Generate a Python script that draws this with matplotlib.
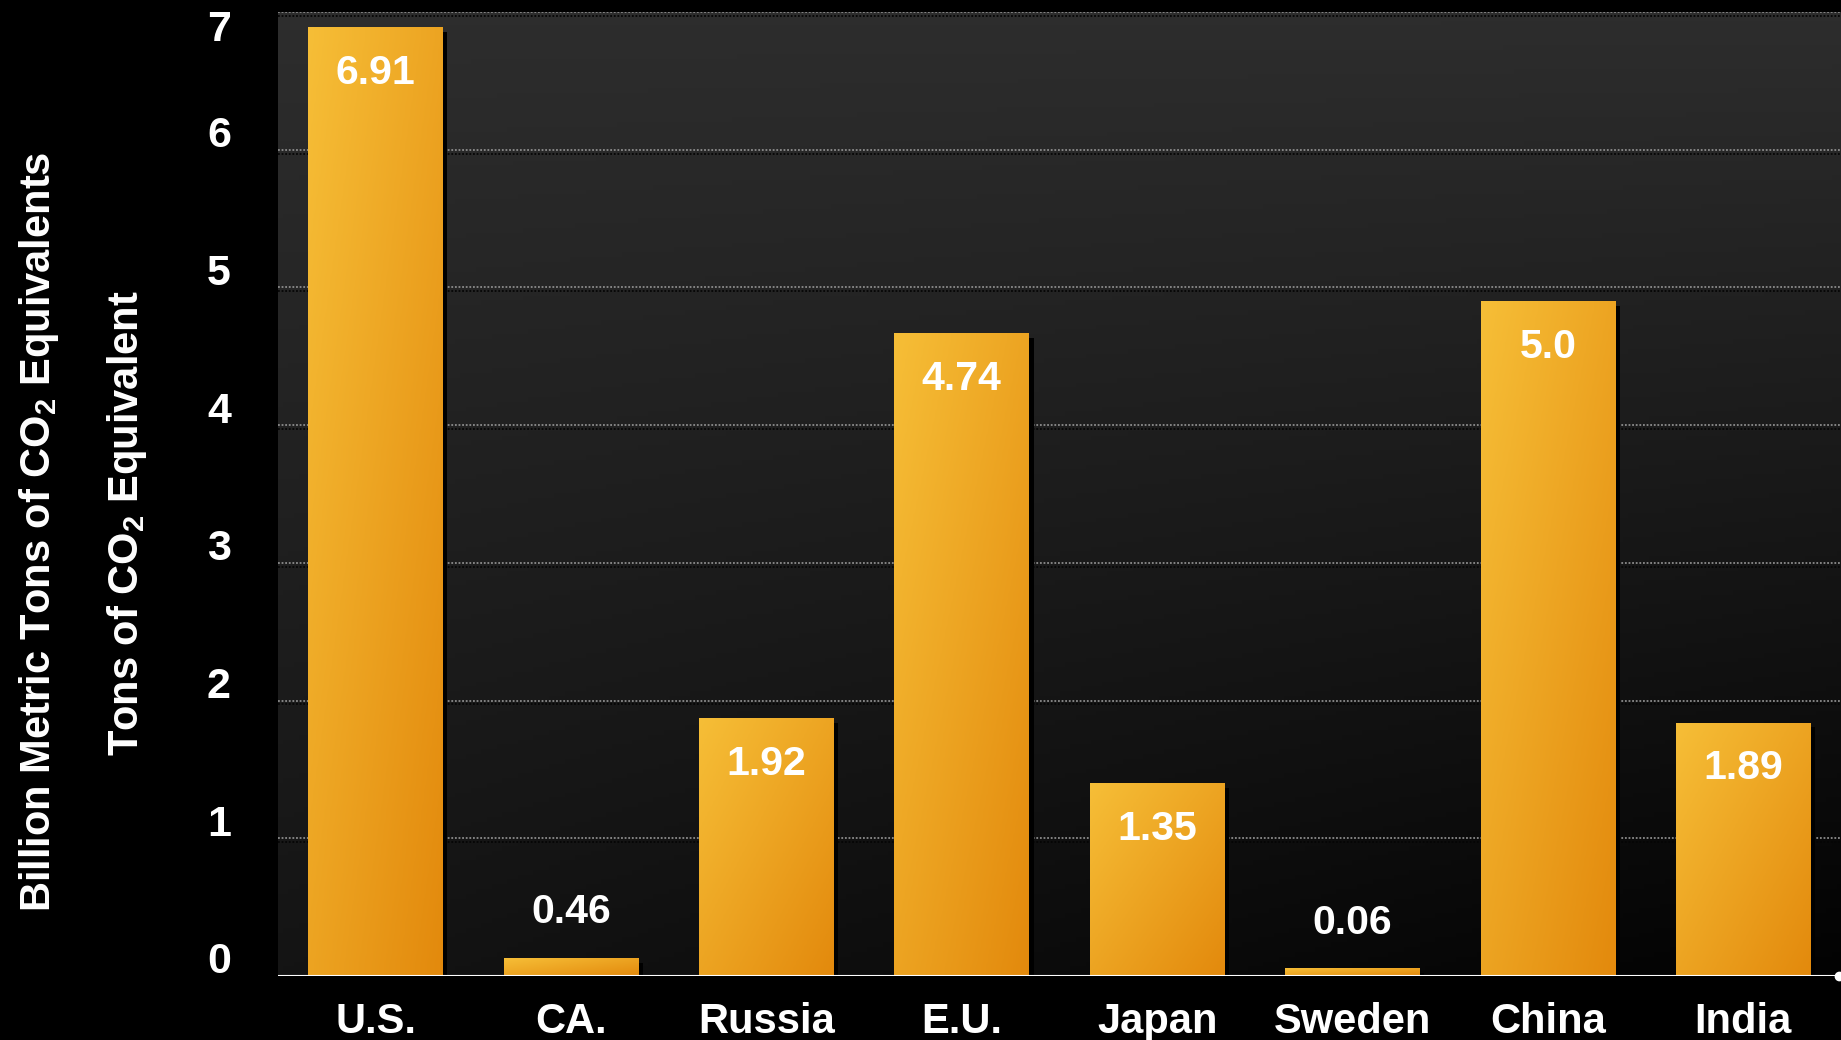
import numpy as np
import matplotlib
matplotlib.use('Agg')
import matplotlib.pyplot as plt
from matplotlib.patches import Rectangle
from matplotlib.transforms import ScaledTranslation

plt.rcParams['font.family'] = ['Liberation Sans', 'DejaVu Sans']
plt.rcParams['font.weight'] = 'bold'
plt.rcParams['mathtext.fontset'] = 'custom'
plt.rcParams['mathtext.rm'] = 'Liberation Sans:bold'
plt.rcParams['mathtext.it'] = 'Liberation Sans:bold'
plt.rcParams['mathtext.bf'] = 'Liberation Sans:bold'

# data
countries = ['U.S.', 'CA.', 'Russia', 'E.U.', 'Japan', 'Sweden', 'China', 'India']
bar_heights = [6.89, 0.13, 1.87, 4.67, 1.40, 0.055, 4.90, 1.84]
value_labels = ['6.91', '0.46', '1.92', '4.74', '1.35', '0.06', '5.0', '1.89']
yticks = [0, 1, 2, 3, 4, 5, 6, 7]

fig = plt.figure(figsize=(18.41, 10.40), dpi=100)
fig.patch.set_facecolor('black')
ax = fig.add_axes([0.151, 0.0615, 0.849, 0.927])
ax.set_facecolor('black')

x = np.arange(len(countries))
xmin, xmax = -0.5, len(countries) - 0.5
ax.set_xlim(xmin, xmax)
ax.set_ylim(0, 7)

# plot area background gradient (lighter top, darker lower right)
ny, nx = 200, 300
yy, xx = np.mgrid[0:1:ny*1j, 0:1:nx*1j]
v = 0.178 - 0.10 * yy - 0.07 * xx * yy
v = np.clip(v, 0, 1)
bg = np.dstack([v, v, v])
ax.imshow(bg, extent=[xmin, xmax, 0, 7], aspect='auto', origin='upper', zorder=0)

# dotted grid lines with dark shadow line
for y in yticks[1:]:
    ax.axhline(y, color='#8c8c8c', lw=1.3, ls=(0, (1, 1)), zorder=1)
    ax.axhline(y - 0.028, color='#050505', lw=1.3, ls=(0, (1, 1)), zorder=1)

# bars with shadow and diagonal orange gradient
width = 0.69
gy, gx = np.mgrid[0:1:50j, 0:1:50j]
t = (gx + gy) / 2
c0 = np.array([0.965, 0.745, 0.215])
c1 = np.array([0.890, 0.540, 0.050])
grad = c0[None, None, :] * (1 - t[..., None]) + c1[None, None, :] * t[..., None]

for xi, h in zip(x, bar_heights):
    ax.bar(xi + 0.022, max(h - 0.035, 0.01), width=width, color='black', zorder=2)
    rect = Rectangle((xi - width / 2, 0), width, h, facecolor='none', edgecolor='none', zorder=3)
    ax.add_patch(rect)
    im = ax.imshow(grad, extent=[xi - width / 2, xi + width / 2, 0, h],
                   aspect='auto', origin='upper', zorder=3)
    im.set_clip_path(rect)

# value labels
for xi, h, lab in zip(x, bar_heights, value_labels):
    if h > 1:
        off = -33
    else:
        off = 33
    ax.annotate(lab, (xi, h), xytext=(0, off), textcoords='offset points',
                ha='center', va='center', color='white', fontsize=29.5,
                fontweight='bold', zorder=5)

# zero line with end dot
ax.axhline(0, color='white', lw=1.5, zorder=4)
ax.plot([xmax - 0.01], [0], 'o', color='white', ms=6, clip_on=False, zorder=5)

ax.set_xticks(x)
ax.set_xticklabels(countries, fontsize=30, fontweight='bold', color='white')
ax.set_yticks(yticks)
ax.set_yticklabels([str(v) for v in yticks], fontsize=31, fontweight='bold', color='white')
ax.tick_params(axis='both', length=0)
ax.tick_params(axis='x', pad=19)
ax.tick_params(axis='y', pad=34)
for s in ax.spines.values():
    s.set_visible(False)

# y tick labels sit a little above their grid lines; the top one sits just below
for val, lab in zip(yticks, ax.get_yticklabels()):
    dy = -10 / 72 if val == 7 else 13 / 72
    lab.set_transform(lab.get_transform() + ScaledTranslation(0, dy, fig.dpi_scale_trans))

fig.text(0.021, 0.489, r'Billion Metric Tons of CO$_2$ Equivalents', rotation=90,
         ha='center', va='center', color='white', fontsize=30, fontweight='bold')
fig.text(0.069, 0.497, r'Tons of CO$_2$ Equivalent', rotation=90,
         ha='center', va='center', color='white', fontsize=30, fontweight='bold')

fig.savefig('out.png', dpi=100, facecolor='black')
